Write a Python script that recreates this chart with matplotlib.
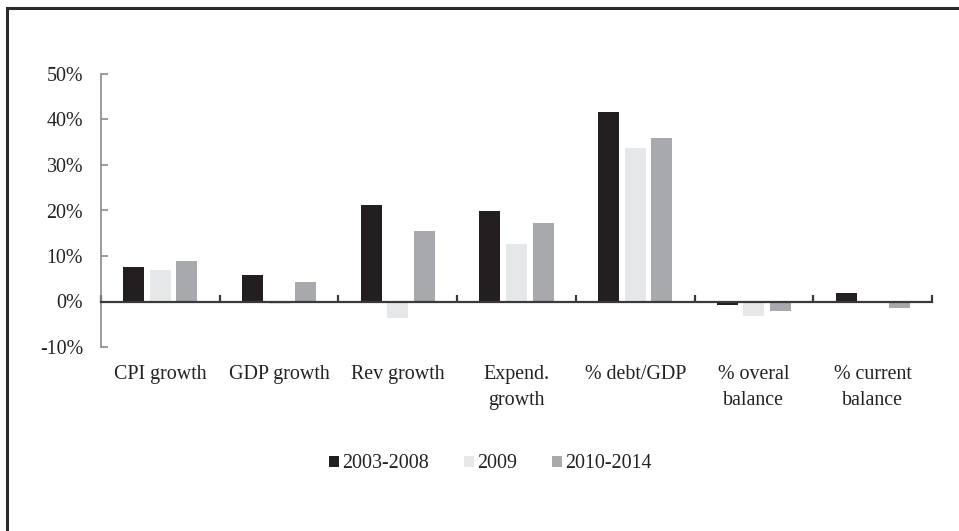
import matplotlib
matplotlib.use("Agg")
import matplotlib.pyplot as plt
import numpy as np
from matplotlib.patches import Rectangle, Patch
from matplotlib.ticker import FuncFormatter, FixedLocator

# Indicator groups and the three periods compared
categories = ["CPI growth", "GDP growth", "Rev growth", "Expend.\ngrowth",
              "% debt/GDP", "% overal\nbalance", "% current\nbalance"]
periods = ["2003-2008", "2009", "2010-2014"]

# Values in percent
v_2003_2008 = [7.5, 5.8, 21.3, 19.9, 41.7, -0.7, 1.8]
v_2009 = [6.9, -0.5, -3.7, 12.6, 33.8, -3.2, 0.0]
v_2010_2014 = [8.9, 4.3, 15.5, 17.3, 35.9, -2.1, -1.4]

colors = ["#231f20", "#e6e7e8", "#a7a9ac"]

plt.rcParams["font.family"] = ["Liberation Serif", "DejaVu Serif"]
plt.rcParams["font.size"] = 14.4

fig = plt.figure(figsize=(9.59, 5.31), dpi=100)
fig.patch.set_facecolor("white")

# Outer frame (open at right and bottom)
fig.add_artist(Rectangle((6.5 / 959, -0.1), 1.2, 1.1 - 7.5 / 531,
                         transform=fig.transFigure, fill=False,
                         edgecolor="#2a2a2a", linewidth=2.2))

ax = fig.add_axes([101 / 959, (531 - 347) / 531, (932 - 101) / 959, (347 - 74) / 531])

x = np.arange(len(categories))
w = 0.177
step = 0.224
for i, (vals, c, lab) in enumerate(zip([v_2003_2008, v_2009, v_2010_2014], colors, periods)):
    ax.bar(x + (i - 1) * step, np.array(vals) / 100, width=w, color=c, label=lab,
           zorder=2, linewidth=0)

ax.set_xlim(-0.5, len(categories) - 0.5)
ax.set_ylim(-0.10, 0.50)
ax.set_yticks(np.arange(-0.10, 0.51, 0.10))
ax.yaxis.set_major_formatter(FuncFormatter(lambda v, p: f"{v * 100:.0f}%"))

for s in ["top", "right"]:
    ax.spines[s].set_visible(False)
ax.spines["left"].set_color("#8a8a8a")
ax.spines["left"].set_linewidth(1.2)
ax.spines["bottom"].set_position(("data", 0))
ax.spines["bottom"].set_color("#3a3a3a")
ax.spines["bottom"].set_linewidth(1.6)
ax.spines["bottom"].set_zorder(3)

ax.tick_params(axis="y", direction="in", length=5, width=1.2, color="#8a8a8a",
               pad=13, labelcolor="#222222")

# Category boundary ticks on the zero line, labels below the plot
ax.xaxis.set_major_locator(FixedLocator(np.arange(-0.5, len(categories), 1.0)))
ax.xaxis.set_minor_locator(FixedLocator(x))
ax.tick_params(axis="x", which="major", direction="in", length=5, width=1.6,
               color="#3a3a3a", labelbottom=False)
ax.set_xticks(x, categories, minor=True)
ax.tick_params(axis="x", which="minor", length=0, pad=46, labelcolor="#222222")
for t in ax.get_xticklabels(minor=True):
    t.set_linespacing(1.45)

handles = [Patch(facecolor=c, edgecolor="none") for c in colors]
fig.legend(handles, periods, loc="center", bbox_to_anchor=(490 / 959, 1 - 464 / 531),
           ncol=3, frameon=False, handlelength=0.5, handleheight=0.5,
           handletextpad=0.15, columnspacing=1.75, labelcolor="#222222")

fig.savefig("out.png", dpi=100, facecolor="white")
